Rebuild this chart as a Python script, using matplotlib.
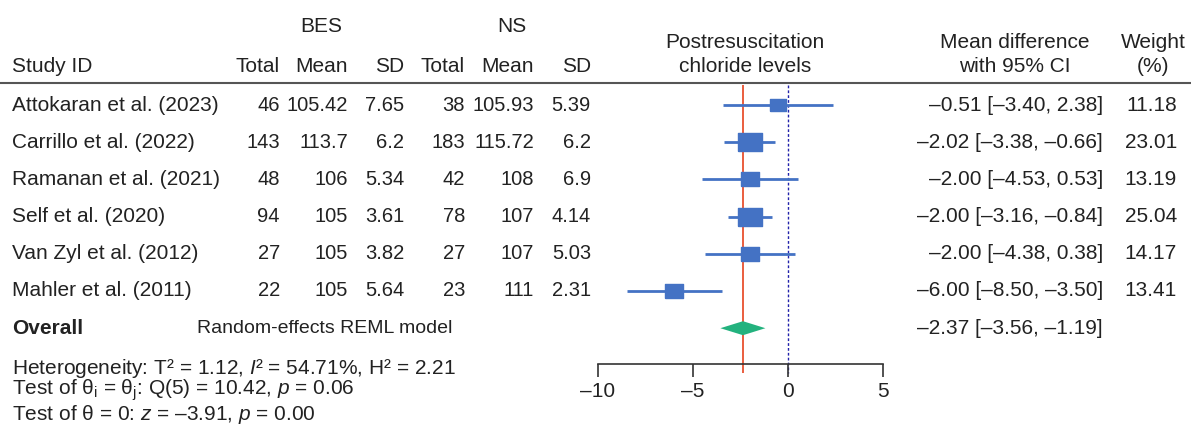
import matplotlib
matplotlib.use("Agg")
import matplotlib.pyplot as plt
from matplotlib.patches import Polygon

plt.rcParams['font.family'] = ['Liberation Sans', 'DejaVu Sans']
plt.rcParams['mathtext.fontset'] = 'custom'
plt.rcParams['mathtext.rm'] = 'Liberation Sans'
plt.rcParams['mathtext.it'] = 'Liberation Sans:italic'
plt.rcParams['mathtext.bf'] = 'Liberation Sans:bold'

# ---------------- data ----------------
studies = ["Attokaran et al. (2023)", "Carrillo et al. (2022)", "Ramanan et al. (2021)",
           "Self et al. (2020)", "Van Zyl et al. (2012)", "Mahler et al. (2011)"]
bes_total = [46, 143, 48, 94, 27, 22]
bes_mean = ["105.42", "113.7", "106", "105", "105", "105"]
bes_sd = ["7.65", "6.2", "5.34", "3.61", "3.82", "5.64"]
ns_total = [38, 183, 42, 78, 27, 23]
ns_mean = ["105.93", "115.72", "108", "107", "107", "111"]
ns_sd = ["5.39", "6.2", "6.9", "4.14", "5.03", "2.31"]
md = [-0.51, -2.02, -2.00, -2.00, -2.00, -6.00]
ci_lo = [-3.40, -3.38, -4.53, -3.16, -4.38, -8.50]
ci_hi = [2.38, -0.66, 0.53, -0.84, 0.38, -3.50]
weights = [11.18, 23.01, 13.19, 25.04, 14.17, 13.41]
overall_md = -2.37
overall_lo = -3.56
overall_hi = -1.19
xticks = [-10, -5, 0, 5]

W, H = 1191, 425
fig = plt.figure(figsize=(W / 100, H / 100), dpi=100)
ax0 = fig.add_axes([0, 0, 1, 1])
ax0.set_xlim(0, W)
ax0.set_ylim(H, 0)
ax0.axis('off')

TC = '#222222'
FS = 15
FSN = 14.5

def fmt(v):
    s = f"{v:.2f}"
    return s.replace('-', '–')

# header
ax0.text(321, 26, "BES", ha='center', va='center', fontsize=FS, color=TC)
ax0.text(512, 26, "NS", ha='center', va='center', fontsize=FS, color=TC)
hy = 66
ax0.text(12, hy, "Study ID", ha='left', va='center', fontsize=FS, color=TC)
col_r = [280, 348, 404, 465, 534, 591]
for x, lab in zip(col_r, ["Total", "Mean", "SD", "Total", "Mean", "SD"]):
    ax0.text(x, hy, lab, ha='right', va='center', fontsize=FS, color=TC)
for xc, (l1, l2) in zip([745, 1015, 1153],
                        [("Postresuscitation", "chloride levels"),
                         ("Mean difference", "with 95% CI"),
                         ("Weight", "(%)")]):
    ax0.text(xc, 42, l1, ha='center', va='center', fontsize=FS, color=TC)
    ax0.text(xc, 66, l2, ha='center', va='center', fontsize=FS, color=TC)
ax0.plot([0, W], [83, 83], color='#555555', lw=1.5)

y0, dy = 105, 37.2
rows_y = [y0 + i * dy for i in range(len(studies))]
for i, y in enumerate(rows_y):
    ax0.text(12, y, studies[i], ha='left', va='center', fontsize=FS, color=TC)
    vals = [str(bes_total[i]), bes_mean[i], bes_sd[i], str(ns_total[i]), ns_mean[i], ns_sd[i]]
    for x, v in zip(col_r, vals):
        ax0.text(x, y, v, ha='right', va='center', fontsize=FSN, color=TC)
    ax0.text(1103, y, f"{fmt(md[i])} [{fmt(ci_lo[i])}, {fmt(ci_hi[i])}]",
             ha='right', va='center', fontsize=FS, color=TC)
    ax0.text(1177, y, f"{weights[i]:.2f}", ha='right', va='center', fontsize=FS, color=TC)

oy = y0 + len(studies) * dy
ax0.text(12, oy, "Overall", ha='left', va='center', fontsize=FS, color=TC, fontweight='bold')
ax0.text(197, oy, "Random-effects REML model", ha='left', va='center', fontsize=14, color=TC)
ax0.text(1103, oy, f"{fmt(overall_md)} [{fmt(overall_lo)}, {fmt(overall_hi)}]",
         ha='right', va='center', fontsize=FS, color=TC)

ax0.text(12, 368, r"Heterogeneity: T² = 1.12, $\mathit{I}$² = 54.71%, H² = 2.21",
         ha='left', va='center', fontsize=FS, color=TC)
ax0.text(12, 390, r"Test of θ$_\mathregular{i}$ = θ$_\mathregular{j}$: Q(5) = 10.42, $\mathit{p}$ = 0.06",
         ha='left', va='center', fontsize=FS, color=TC)
ax0.text(12, 414, r"Test of θ = 0: $\mathit{z}$ = –3.91, $\mathit{p}$ = 0.00",
         ha='left', va='center', fontsize=FS, color=TC)

# forest axes: x in data units, y in pixel rows
xl, xr = 598, 883
ax = fig.add_axes([xl / W, 0, (xr - xl) / W, 1])
ax.set_xlim(xticks[0], xticks[-1])
ax.set_ylim(H, 0)
ax.patch.set_alpha(0)
for s in ['top', 'left', 'right']:
    ax.spines[s].set_visible(False)
axis_y = 364
ax.spines['bottom'].set_position(('data', axis_y))
ax.spines['bottom'].set_color('#333333')
ax.spines['bottom'].set_linewidth(1.2)
ax.set_yticks([])
ax.set_xticks(xticks)
ax.set_xticklabels([str(t).replace('-', '–') for t in xticks])
ax.tick_params(axis='x', direction='out', length=9, width=1.2, color='#333333',
               labelsize=FS, labelcolor=TC, pad=4)

blue = '#4472C4'
ax.vlines(0, 85, axis_y + 9, colors='#2222AA', linestyles=(0, (2, 1.5)), lw=1.0, zorder=1)
ax.vlines(overall_md, 85, axis_y + 9, colors='#E8502F', lw=1.3, zorder=1)

rect = [(-1, -0.75), (1, -0.75), (1, 0.75), (-1, 0.75), (-1, -0.75)]
k = 4.8  # px per sqrt(weight)
for i, y in enumerate(rows_y):
    ax.plot([ci_lo[i], ci_hi[i]], [y, y], color=blue, lw=2.0, solid_capstyle='butt', zorder=2)
    ms = k * weights[i] ** 0.5 * 0.72
    ax.plot([md[i]], [y], marker=rect, ms=ms, color=blue, mec=blue, zorder=3)

dh = 7
diamond = Polygon([(overall_lo, oy), (overall_md, oy - dh), (overall_hi, oy), (overall_md, oy + dh)],
                  closed=True, facecolor='#23B27E', edgecolor='none', zorder=3)
ax.add_patch(diamond)

fig.savefig("out.png", dpi=100)
